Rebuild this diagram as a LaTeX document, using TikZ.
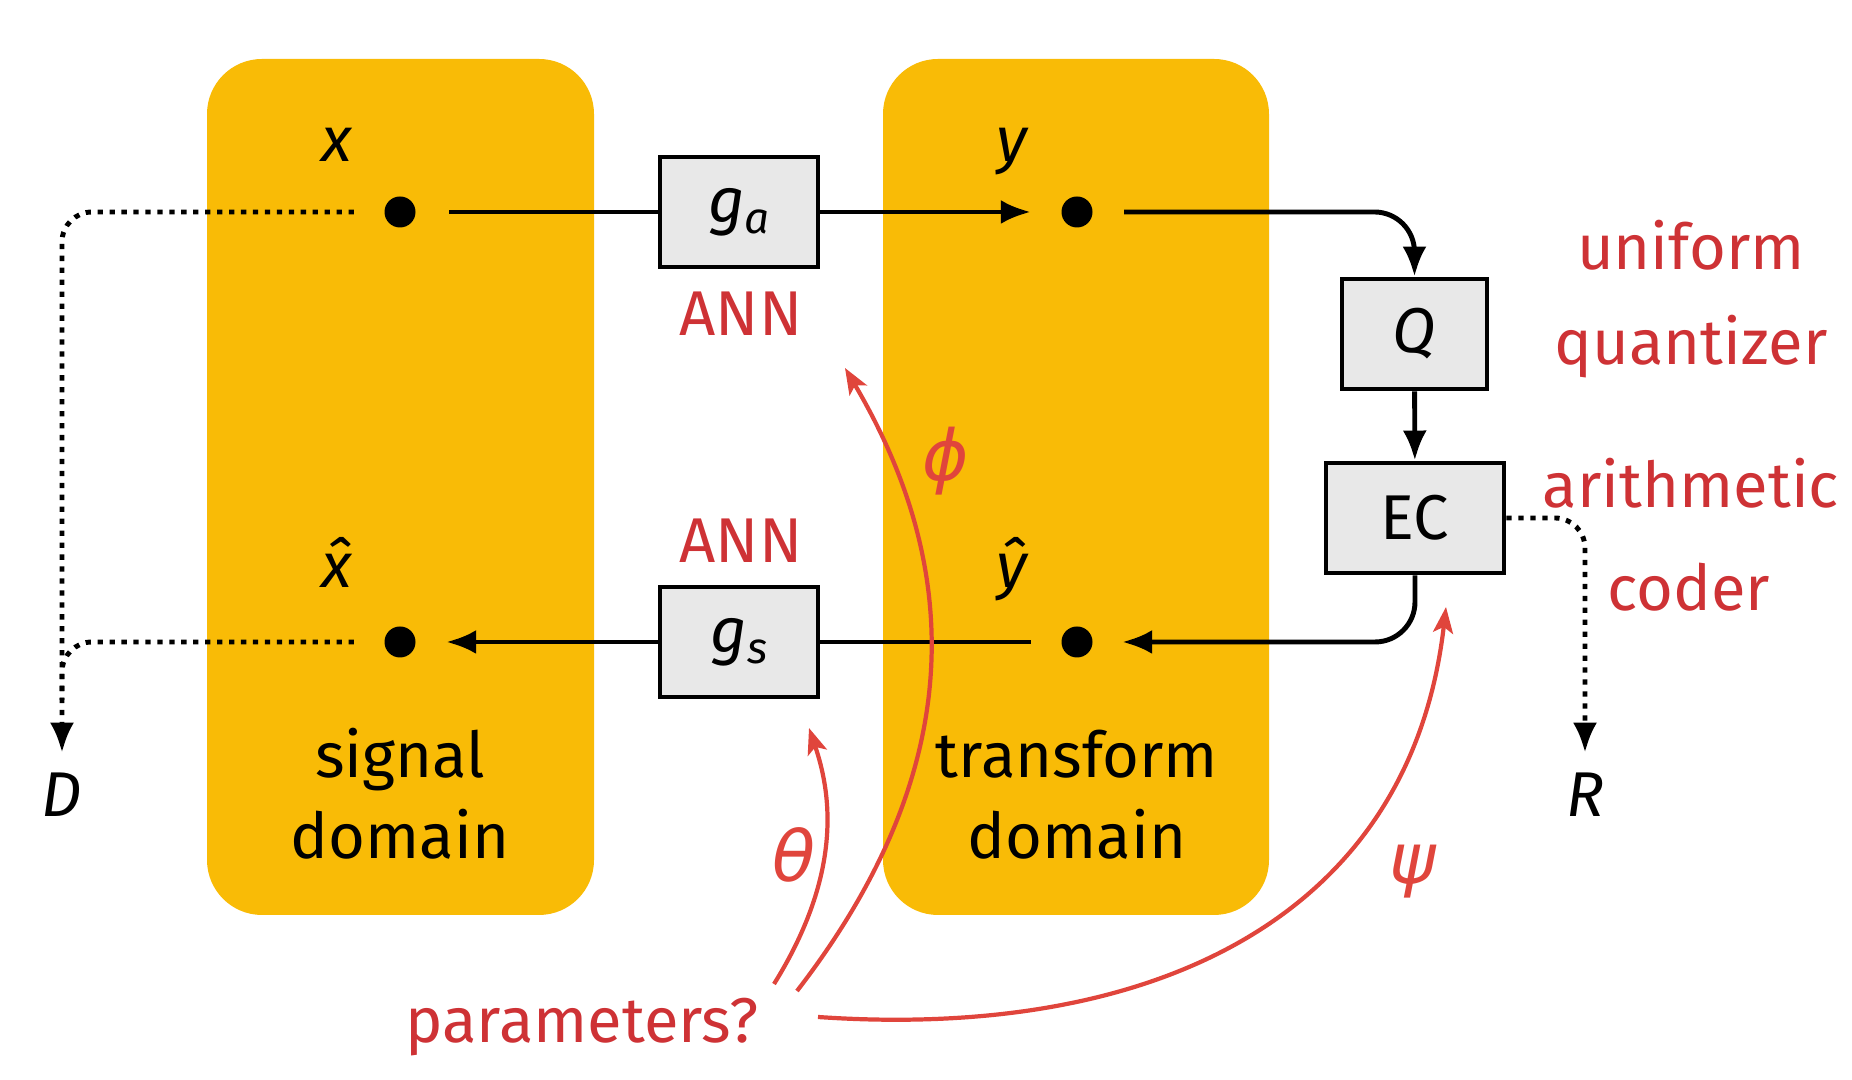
\documentclass[tikz,border=0pt]{standalone}
\usepackage{fontspec}
\setmainfont{Fira Sans}
\newfontfamily\greekfont{DejaVu Sans}
\usetikzlibrary{arrows.meta,positioning}

\definecolor{domainyellow}{HTML}{F9BB06}
\definecolor{boxgray}{HTML}{E8E8E8}
\definecolor{labelred}{HTML}{CE3235}
\definecolor{paramred}{HTML}{E0453C}
\newcommand{\lowsub}[1]{\raisebox{-0.35ex}{\fontsize{12.5}{13}\selectfont\itshape #1}}

\tikzset{
    every node/.style={font=\fontsize{18}{22}\selectfont},
    block/.style={draw, line width=1.4pt, fill=boxgray, minimum height=1.1cm, inner sep=0pt},
    point/.style={circle, fill=black, minimum size=0.31cm, inner sep=0pt},
    flow/.style={line width=1.4pt, -{Latex[length=3mm,width=2.4mm]}},
    loss/.style={line width=1.4pt, dash pattern=on 1.5pt off 1.9pt, rounded corners=0.3cm, -{Latex[length=3mm,width=2.4mm]}},
    param/.style={paramred, line width=1.2pt, -{Stealth[length=2.6mm,width=2mm,inset=0.6mm]}},
    note/.style={labelred, anchor=base},
}

\begin{document}
\begin{tikzpicture}[x=1cm,y=1cm]
    \useasboundingbox (0,0) rectangle (18.52,10.8);
    % domains
    \fill[domainyellow, rounded corners=0.55cm] (2.07,1.65) rectangle (5.94,10.21);
    \fill[domainyellow, rounded corners=0.55cm] (8.83,1.65) rectangle (12.69,10.21);
    \node[anchor=base] (sig) at (4.00,3.02) {signal};
    \node[anchor=base] (sigdom) at (4.00,2.215) {domain};
    \node[anchor=base] (trans) at (10.77,3.02) {transform};
    \node[anchor=base] (transdom) at (10.77,2.215) {domain};

    % points
    \node[point] (x) at (4.00,8.68) {};
    \node[point] (y) at (10.77,8.68) {};
    \node[point] (xhat) at (4.00,4.38) {};
    \node[point] (yhat) at (10.77,4.38) {};
    \node[anchor=base] (xlbl) at (3.37,9.18) {\itshape x};
    \node[anchor=base] (ylbl) at (10.12,9.18) {\itshape y};
    \node[anchor=base] (xhatlbl) at (3.37,4.92) {\itshape x̂};
    \node[anchor=base] (yhatlbl) at (10.12,4.92) {\itshape ŷ};

    % blocks
    \node[block, minimum width=1.58cm] (ga) at (7.39,8.68) {\itshape g\lowsub{a}};
    \node[block, minimum width=1.58cm] (gs) at (7.39,4.38) {\itshape g\lowsub{s}};
    \node[block, minimum width=1.45cm] (q) at (14.145,7.46) {\itshape Q};
    \node[block, minimum width=1.78cm] (ec) at (14.15,5.62) {EC};

    \node[note] (annA) at (7.41,7.44) {ANN};
    \node[note] (annS) at (7.41,5.17) {ANN};
    \node[note] (uni) at (16.91,8.10) {uniform};
    \node[note] (quant) at (16.91,7.15) {quantizer};
    \node[note] (arith) at (16.91,5.72) {arithmetic};
    \node[note] (coder) at (16.89,4.69) {coder};

    % D and R
    \node[anchor=base, inner sep=0pt] (D) at (0.62,2.63) {\itshape D};
    \node[anchor=base, inner sep=0pt] (R) at (15.85,2.63) {\itshape R};

    % forward and backward paths
    \draw[line width=1.4pt, shorten <=0.33cm] (x) -- (ga);
    \draw[flow, shorten >=0.3cm] (ga) -- (y);
    \draw[flow, rounded corners=0.4cm, shorten <=0.31cm] (y) -| (q);
    \draw[flow] (q) -- (ec);
    \draw[flow, rounded corners=0.4cm, shorten >=0.29cm] (ec) |- (yhat);
    \draw[line width=1.4pt, shorten <=0.3cm] (yhat) -- (gs);
    \draw[flow, shorten >=0.3cm] (gs) -- (xhat);

    % distortion and rate
    \draw[loss, shorten <=0.3cm, shorten >=0.2cm] (x) -| (D);
    \draw[loss, -, shorten <=0.3cm] (xhat) -| (0.62,3.8);
    \draw[loss, shorten >=0.2cm] (ec) -| (R);

    % parameters
    \node[note] (params) at (5.82,0.37) {parameters?};
    \draw[param] (7.74,0.96) .. controls (8.45,2.1) and (8.3,2.9) .. (8.09,3.52);
    \draw[param] (7.97,0.89) .. controls (9.6,3.0) and (9.7,5.0) .. (8.45,7.12);
    \draw[param] (8.18,0.63) .. controls (11.5,0.4) and (14.1,1.6) .. (14.46,4.73);
    \node[paramred, font=\fontsize{20}{24}\selectfont\greekfont\itshape] (theta) at (7.94,2.25) {θ};
    \node[paramred, font=\fontsize{20}{24}\selectfont\greekfont\itshape] (phi) at (9.46,6.19) {ϕ};
    \node[paramred, font=\fontsize{20}{24}\selectfont\greekfont\itshape] (psi) at (14.13,2.08) {ψ};
\end{tikzpicture}
\end{document}
